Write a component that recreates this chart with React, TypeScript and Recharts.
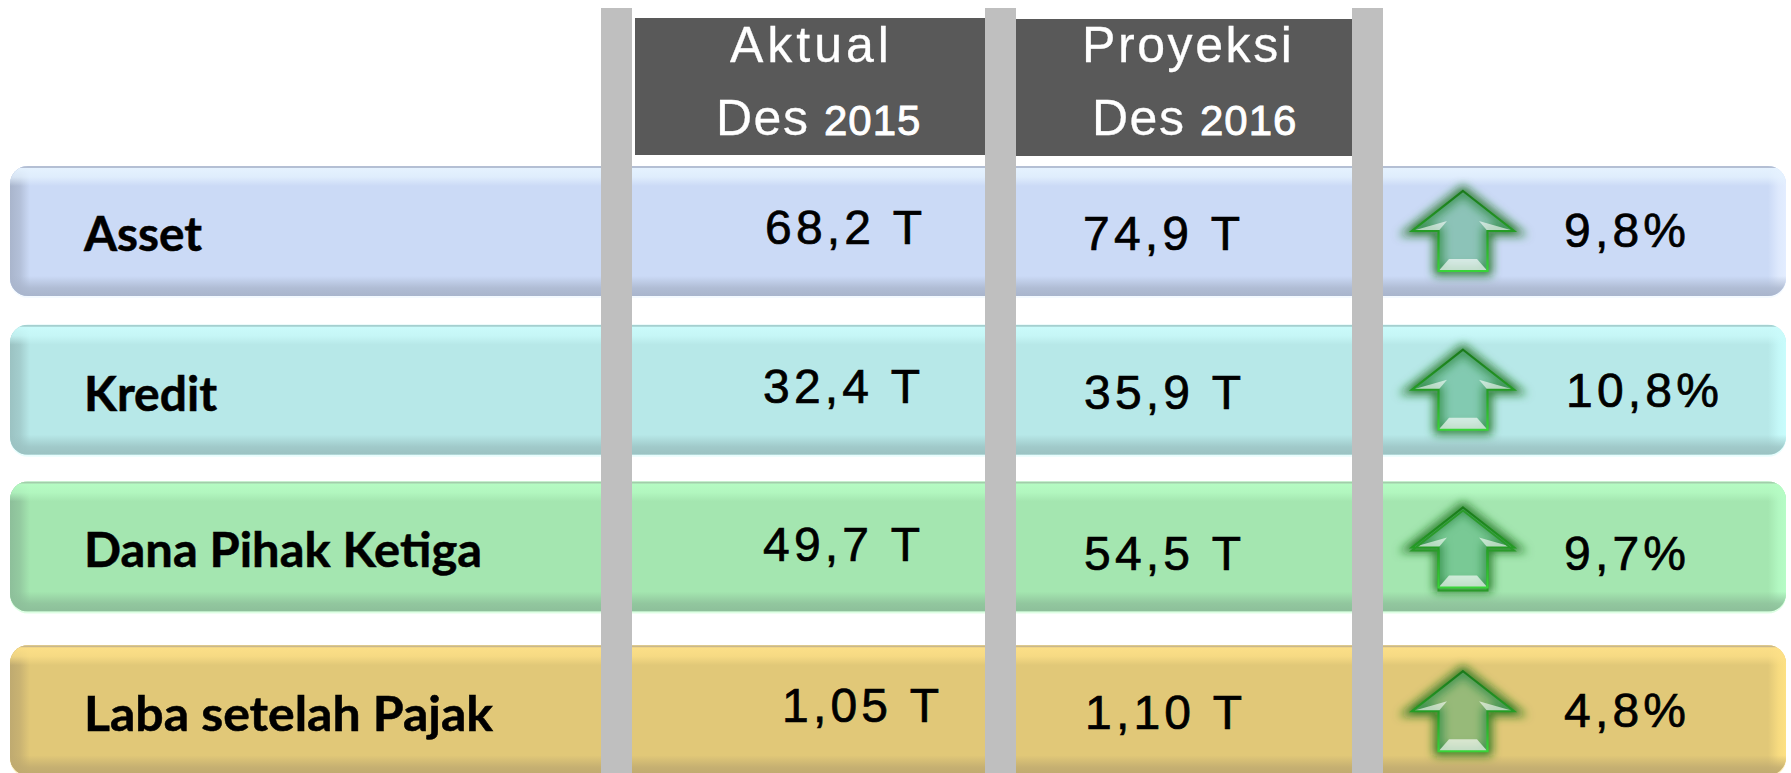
import React from "react";
import { BarChart, Bar, XAxis, YAxis, ReferenceArea, LabelList } from "recharts";

const categories = ["Asset", "Kredit", "Dana Pihak Ketiga", "Laba setelah Pajak"];
const actual = ["68,2 T", "32,4 T", "49,7 T", "1,05 T"];
const projection = ["74,9 T", "35,9 T", "54,5 T", "1,10 T"];
const growth = ["9,8%", "10,8%", "9,7%", "4,8%"];
const headerTop = ["Aktual", "Proyeksi"];
const headerMonth = ["Des", "Des"];
const headerYear = ["2015", "2016"];

const rows = categories.map((name, i) => ({
  name,
  actual: actual[i],
  projection: projection[i],
  growth: growth[i],
  span: [10, 1786],
}));

// Layout and style only
const W = 1791;
const H = 789;
const palette = [
  { base: "#cbdaf6", hi: "#e6f3ff", lo: "#a9b5cc", edge: "#b4bfd4", side: "#e3edff" },
  { base: "#b7e8e8", hi: "#cbfbfb", lo: "#9bc2c2", edge: "#a5cfcf", side: "#c8fcfc" },
  { base: "#a4e6b0", hi: "#b6fcc4", lo: "#8dbf9a", edge: "#a3cdab", side: "#b6fcc6" },
  { base: "#e1c878", hi: "#fde088", lo: "#bfaa70", edge: "#c9b88c", side: "#fde082" },
];
const rowNudge = [1, 0, -3, 1];
const arrowNudge = [1, 0, -2, 2];
const nameX = [84, 84, 84, 84];
const nameW = [118, 133, 398, 409];
const nameDy = [21, 21, 17, 22];
const actualX = [765, 763, 763, 782];
const actualDy = [14, 13, 11, 13];
const projX = [1083, 1084, 1084, 1085];
const projDy = [20, 19, 20, 20];
const growthX = [1564, 1566, 1564, 1564];
const growthDy = [17, 17, 20, 18];
const ARROW_X = 1463;
const SANS = "'Liberation Sans', Arial, sans-serif";
const GREY = "#bfbfbf";
const DARK = "#595959";

function Banner(props: any) {
  const { x, y, width, height, index } = props;
  const c = palette[index];
  const top = y + rowNudge[index];
  const r = 18;
  const id = `b${index}`;
  return (
    <g>
      <defs>
        <clipPath id={`${id}c`}>
          <rect x={x} y={top} width={width} height={height} rx={r} ry={r} />
        </clipPath>
        <linearGradient id={`${id}t`} x1="0" y1="0" x2="0" y2="1">
          <stop offset="0" stopColor={c.hi} />
          <stop offset="0.55" stopColor={c.hi} stopOpacity={0.75} />
          <stop offset="1" stopColor={c.hi} stopOpacity={0} />
        </linearGradient>
        <linearGradient id={`${id}b`} x1="0" y1="0" x2="0" y2="1">
          <stop offset="0" stopColor={c.lo} stopOpacity={0} />
          <stop offset="0.6" stopColor={c.lo} stopOpacity={0.8} />
          <stop offset="1" stopColor={c.lo} />
        </linearGradient>
        <linearGradient id={`${id}l`} x1="0" y1="0" x2="1" y2="0">
          <stop offset="0" stopColor={c.lo} />
          <stop offset="0.5" stopColor={c.lo} stopOpacity={0.7} />
          <stop offset="1" stopColor={c.lo} stopOpacity={0} />
        </linearGradient>
        <linearGradient id={`${id}r`} x1="0" y1="0" x2="1" y2="0">
          <stop offset="0" stopColor={c.side} stopOpacity={0} />
          <stop offset="0.6" stopColor={c.side} stopOpacity={0.8} />
          <stop offset="1" stopColor={c.side} />
        </linearGradient>
      </defs>
      <rect x={x} y={top} width={width} height={height + 2} rx={r} ry={r} fill={c.hi} opacity={0.45} />
      <g clipPath={`url(#${id}c)`}>
        <rect x={x} y={top} width={width} height={height} fill={c.base} />
        <rect x={x} y={top} width={20} height={height} fill={`url(#${id}l)`} />
        <rect x={x + width - 18} y={top} width={18} height={height} fill={`url(#${id}r)`} />
        <rect x={x} y={top} width={width} height={20} fill={`url(#${id}t)`} />
        <rect x={x} y={top + height - 20} width={width} height={20} fill={`url(#${id}b)`} />
        <rect x={x} y={top} width={width} height={2} fill={c.edge} />
      </g>
    </g>
  );
}

function arrowPath(cx: number, cy: number) {
  return `M${cx} ${cy - 40}L${cx + 51} ${cy}H${cx + 24.5}V${cy + 40}H${cx - 24.5}V${cy}H${cx - 51}Z`;
}

function Arrow({ cx, cy, index }: { cx: number; cy: number; index: number }) {
  const p = arrowPath(cx, cy);
  const gid = `as${index}`;
  return (
    <g>
      <defs>
        <linearGradient id={gid} x1="0" y1="0" x2="0" y2="1">
          <stop offset="0" stopColor="#1a7a1a" />
          <stop offset="0.5" stopColor="#259c25" />
          <stop offset="1" stopColor="#38d438" />
        </linearGradient>
        <filter id={`${gid}f`} x="-30%" y="-30%" width="160%" height="160%">
          <feGaussianBlur stdDeviation="5" />
        </filter>
      </defs>
      <path d={p} fill="none" stroke="#176f17" strokeOpacity={0.9} strokeWidth={9} filter={`url(#${gid}f)`} />
      <path d={p} fill="#4dac7a" fillOpacity={0.5} />
      <path d={`M${cx - 51} ${cy}L${cx - 16} ${cy - 10}L${cx - 24.5} ${cy}Z`} fill="#ffffff" fillOpacity={0.6} />
      <path d={`M${cx + 51} ${cy}L${cx + 16} ${cy - 10}L${cx + 24.5} ${cy}Z`} fill="#ffffff" fillOpacity={0.6} />
      <path d={`M${cx - 24.5} ${cy + 40}L${cx - 14} ${cy + 28}H${cx + 14}L${cx + 24.5} ${cy + 40}Z`} fill="#ffffff" fillOpacity={0.65} />
      {index === 2 && <path d={arrowPath(cx, cy + 3)} fill="none" stroke="#2a9a2a" strokeWidth={2} />}
      <path d={p} fill="none" stroke={`url(#${gid})`} strokeWidth={2.2} />
    </g>
  );
}

const centre = (p: any) => p.y + p.height / 2;

const NameLabel = (p: any) => (
  <text
    x={nameX[p.index]}
    y={centre(p) + nameDy[p.index]}
    fontFamily="Lato, sans-serif"
    fontWeight={700}
    fontSize={47}
    fill="#000"
    stroke="#000"
    strokeWidth={0.5}
    textLength={nameW[p.index]}
    lengthAdjust="spacingAndGlyphs"
  >
    {p.value}
  </text>
);

const valueLabel = (xs: number[], dys: number[]) => (p: any) => (
  <text
    x={xs[p.index]}
    y={centre(p) + dys[p.index]}
    fontFamily={SANS}
    fontSize={48}
    letterSpacing={4.2}
    fill="#000"
    stroke="#000"
    strokeWidth={0.7}
    style={{ whiteSpace: "pre" }}
  >
    {String(p.value).replace(" ", "\u00a0")}
  </text>
);

const GrowthLabel = (p: any) => (
  <g>
    <Arrow cx={ARROW_X} cy={centre(p) + arrowNudge[p.index]} index={p.index} />
    {valueLabel(growthX, growthDy)(p)}
  </g>
);

const header = (i: number, lineX: number[], spacing: number) => (p: any) => (
  <g>
    <rect x={p.x} y={p.y} width={p.width} height={p.height} fill={DARK} />
    <text x={lineX[0]} y={62} fontFamily={SANS} fontSize={50} letterSpacing={spacing} stroke="#fff" strokeWidth={0.3} fill="#fff">
      {headerTop[i]}
    </text>
    <text x={lineX[1]} y={135} fontFamily={SANS} fontSize={50} letterSpacing={1.5} stroke="#fff" strokeWidth={0.3} fill="#fff">
      {headerMonth[i]}
    </text>
    <text x={lineX[1] + 108} y={135} fontFamily={SANS} fontSize={42} stroke="#fff" strokeWidth={0.9} letterSpacing={1} fill="#fff">
      {headerYear[i]}
    </text>
  </g>
);

const separators = [
  [601, 632],
  [985, 1016],
  [1352, 1383],
];

const overlay: React.CSSProperties = { position: "absolute", left: 0, top: 0 };

export default function App() {
  return (
    <div style={{ position: "absolute", left: 0, top: 0, width: W, height: 773, overflow: "hidden", background: "#fff" }}>
      <div style={overlay}>
        <BarChart
          width={W}
          height={H}
          data={rows}
          layout="vertical"
          margin={{ top: 0, right: 0, bottom: 0, left: 0 }}
          barSize={130}
        >
          <XAxis type="number" domain={[0, W]} hide allowDataOverflow />
          <YAxis type="category" dataKey="name" hide padding={{ top: 150, bottom: 0 }} />
          <Bar dataKey="span" shape={Banner} isAnimationActive={false}>
            <LabelList dataKey="name" content={NameLabel} />
            <LabelList dataKey="actual" content={valueLabel(actualX, actualDy)} />
            <LabelList dataKey="projection" content={valueLabel(projX, projDy)} />
            <LabelList dataKey="growth" content={GrowthLabel} />
          </Bar>
        </BarChart>
      </div>
      <div style={overlay}>
        <BarChart width={W} height={H} data={rows} margin={{ top: 0, right: 0, bottom: 0, left: 0 }}>
          <XAxis type="number" dataKey="x" domain={[0, W]} hide allowDataOverflow />
          <YAxis type="number" domain={[0, H]} reversed hide allowDataOverflow />
          {separators.map(([a, b]) => (
            <ReferenceArea key={a} x1={a} x2={b} y1={8} y2={H} fill={GREY} fillOpacity={1} stroke="none" ifOverflow="visible" />
          ))}
          <ReferenceArea x1={635} x2={985} y1={18} y2={155} ifOverflow="visible" shape={header(0, [730, 716], 4)} />
          <ReferenceArea x1={1016} x2={1352} y1={19} y2={156} ifOverflow="visible" shape={header(1, [1082, 1092], 2.6)} />
        </BarChart>
      </div>
    </div>
  );
}
